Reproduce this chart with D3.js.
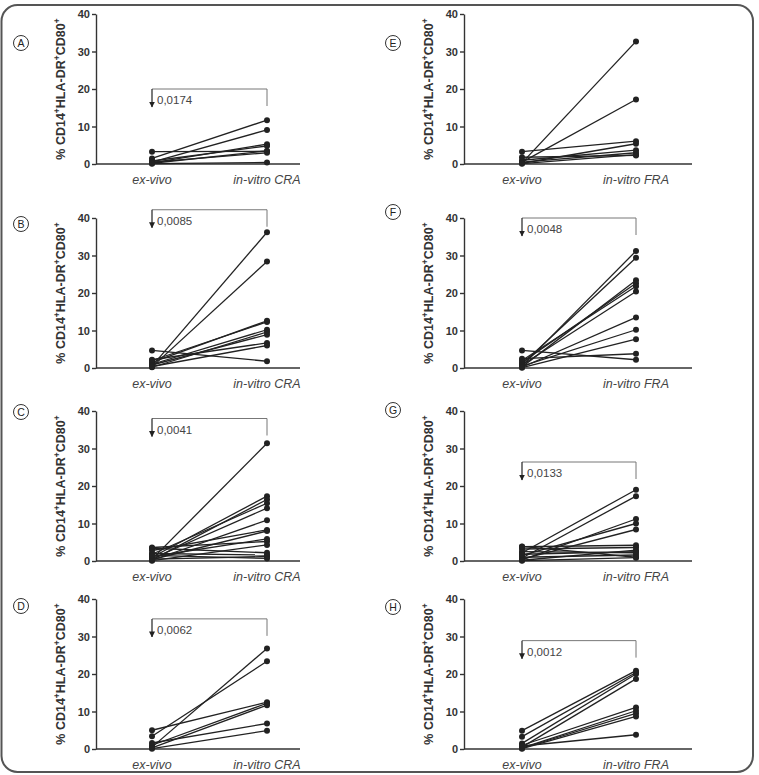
<!DOCTYPE html>
<html>
<head>
<meta charset="utf-8">
<script src="https://cdn.jsdelivr.net/npm/d3@7"></script>
<style>
  body { margin: 0; background: #fff; }
  svg text { font-family: "Liberation Sans", Arial, sans-serif; }
  .axis path, .axis line { stroke: #333; stroke-width: 1.4px; }
  .axis text { font-size: 11px; font-weight: bold; fill: #333; }
</style>
</head>
<body>
<div id="chart-area"></div>
<script>
// DATA (ex-vivo value, in-vitro value per donor)
const panelNames = ["A", "B", "C", "D", "E", "F", "G", "H"];
const conditions = ["CRA", "CRA", "CRA", "CRA", "FRA", "FRA", "FRA", "FRA"];
const pValues = ["0,0174", "0,0085", "0,0041", "0,0062", null, "0,0048", "0,0133", "0,0012"];
const yTicks = [0, 10, 20, 30, 40];

const exA = [1.5, 0.5, 3.3, 0.3, 0.8, 0.2, 0.5, 0.1];
const inA = [11.7, 9.1, 3.4, 5.3, 4.8, 3.5, 3.0, 0.4];

const exB = [0.5, 0.3, 1.5, 2.0, 1.0, 0.2, 0.8, 2.2, 0.4, 4.7];
const inB = [36.2, 28.4, 12.6, 12.3, 10.2, 9.6, 8.9, 6.7, 6.0, 1.8];

const exC = [0.5, 1.0, 0.3, 1.8, 0.6, 0.2, 2.8, 0.4, 1.2, 3.6, 0.1, 3.4, 2.0, 0.5, 1.5];
const inC = [31.4, 17.3, 16.4, 15.4, 14.1, 10.9, 8.3, 8.0, 5.9, 5.2, 4.3, 2.2, 1.6, 1.2, 0.7];

const exD = [0.5, 3.4, 5.0, 1.0, 0.3, 1.6, 0.1];
const inD = [26.8, 23.4, 12.5, 12.2, 11.7, 6.8, 4.9];

const exE = [0.3, 0.5, 3.3, 0.2, 1.0, 0.5, 0.1, 1.8];
const inE = [32.7, 17.2, 6.1, 5.4, 3.7, 3.0, 2.5, 2.3];

const exF = [0.5, 1.0, 0.3, 1.5, 2.0, 0.8, 0.2, 0.5, 0.1, 2.5, 4.7];
const inF = [31.2, 29.4, 23.4, 22.6, 21.8, 20.4, 13.5, 10.2, 7.7, 3.8, 2.2];

const exG = [2.2, 0.8, 0.3, 1.5, 0.5, 3.8, 3.2, 0.2, 2.5, 1.0, 0.1, 3.9, 1.8];
const inG = [19.0, 17.3, 11.2, 10.0, 8.4, 4.2, 3.6, 2.9, 2.2, 1.6, 0.9, 1.0, 2.5];

const exH = [4.9, 3.3, 1.5, 0.5, 1.0, 0.3, 0.2, 0.1, 0.8];
const inH = [20.9, 20.4, 20.0, 18.7, 11.1, 10.2, 9.5, 8.7, 3.8];

const exValues = [exA, exB, exC, exD, exE, exF, exG, exH];
const inValues = [inA, inB, inC, inD, inE, inF, inG, inH];

// LAYOUT
const W = 759, H = 775;
const plotH = 150;
const colX = [96, 464];          // y-axis position per column
const colW = [204, 228];         // x-axis length per column
const colPts = [[56, 171], [58, 172]];
const rowTop = [14, 218, 411, 599];
const badgeY = [43, 224, 412, 606, 43, 212, 410, 607];
const bracketAt = [20, 42.2, 38, 34.7, null, 40, 26.4, 28.9];

let svg = d3.select("#chart-area")
  .append("svg")
  .attr("width", W)
  .attr("height", H);

// rounded frame
svg.append("rect")
  .attr("x", 1.5).attr("y", 5)
  .attr("width", 751.5).attr("height", 767)
  .attr("rx", 16).attr("ry", 16)
  .attr("fill", "none")
  .attr("stroke", "#555")
  .attr("stroke-width", 2);

svg.append("defs").append("marker")
  .attr("id", "arrow")
  .attr("viewBox", "0 0 10 10")
  .attr("refX", 9).attr("refY", 5)
  .attr("markerWidth", 5).attr("markerHeight", 6)
  .attr("orient", "auto")
  .append("path")
  .attr("d", "M0,0 L10,5 L0,10 z")
  .attr("fill", "#222");

panelNames.forEach(function(name, i) {
  let col = i < 4 ? 0 : 1,
    row = i % 4;
  let g = svg.append("g")
    .attr("transform", "translate(" + colX[col] + "," + rowTop[row] + ")");

  let labels = ["ex-vivo", "in-vitro " + conditions[i]];
  let x = d3.scalePoint().domain(labels).range(colPts[col]);
  let y = d3.scaleLinear().domain([0, 40]).range([plotH, 0]);

  // y axis
  g.append("g")
    .attr("class", "axis")
    .call(d3.axisLeft(y).tickValues(yTicks).tickSize(4).tickSizeOuter(0).tickPadding(2));

  // x axis line + labels
  g.append("line")
    .attr("x1", 0).attr("x2", colW[col])
    .attr("y1", plotH).attr("y2", plotH)
    .attr("stroke", "#333").attr("stroke-width", 1.4);

  g.selectAll(".xlab")
    .data(labels)
    .enter()
    .append("text")
    .attr("class", "xlab")
    .attr("x", function(d) { return x(d); })
    .attr("y", plotH + 20)
    .attr("text-anchor", "middle")
    .style("font-style", "italic")
    .style("font-size", "12.5px")
    .style("fill", "#444")
    .text(function(d) { return d; });

  // y title
  let yt = g.append("text")
    .attr("transform", "translate(-31," + plotH / 2 + ") rotate(-90)")
    .attr("text-anchor", "middle")
    .style("font-size", "12.5px")
    .style("font-weight", "bold")
    .style("fill", "#333");
  [["% CD14", false], ["+", true], ["HLA-DR", false], ["+", true], ["CD80", false], ["+", true]]
    .forEach(function(p) {
      let t = yt.append("tspan").text(p[0]);
      if (p[1]) t.attr("dy", -5).style("font-size", "8.5px");
      else if (p[0] !== "% CD14") t.attr("dy", 5);
    });

  // paired lines
  let pairs = exValues[i].map(function(v, k) { return [v, inValues[i][k]]; });
  g.selectAll(".pair")
    .data(pairs)
    .enter()
    .append("line")
    .attr("class", "pair")
    .attr("x1", x(labels[0])).attr("x2", x(labels[1]))
    .attr("y1", function(d) { return y(d[0]); })
    .attr("y2", function(d) { return y(d[1]); })
    .attr("stroke", "#222")
    .attr("stroke-width", 1.3);

  labels.forEach(function(lab, j) {
    g.selectAll(".dot" + j)
      .data(pairs)
      .enter()
      .append("circle")
      .attr("cx", x(lab))
      .attr("cy", function(d) { return y(d[j]); })
      .attr("r", 3)
      .attr("fill", "#222");
  });

  // significance bracket
  if (pValues[i]) {
    let by = y(bracketAt[i]);
    let x0 = x(labels[0]), x1 = x(labels[1]);
    g.append("path")
      .attr("d", "M" + x0 + "," + by + " H" + x1 + " V" + (by + 17))
      .attr("fill", "none")
      .attr("stroke", "#777")
      .attr("stroke-width", 1);
    g.append("line")
      .attr("x1", x0).attr("x2", x0)
      .attr("y1", by).attr("y2", by + 18)
      .attr("stroke", "#222")
      .attr("stroke-width", 1.2)
      .attr("marker-end", "url(#arrow)");
    g.append("text")
      .attr("x", x0 + 5)
      .attr("y", by + 15)
      .style("font-size", "11.5px")
      .style("fill", "#444")
      .text(pValues[i]);
  }

  // panel badge
  let bx = col === 0 ? 21 : 393;
  svg.append("circle")
    .attr("cx", bx).attr("cy", badgeY[i])
    .attr("r", 7.5)
    .attr("fill", "#fff")
    .attr("stroke", "#333")
    .attr("stroke-width", 1);
  svg.append("text")
    .attr("x", bx).attr("y", badgeY[i] + 3.8)
    .attr("text-anchor", "middle")
    .style("font-size", "10.5px")
    .style("fill", "#222")
    .text(name);
});
</script>
</body>
</html>
